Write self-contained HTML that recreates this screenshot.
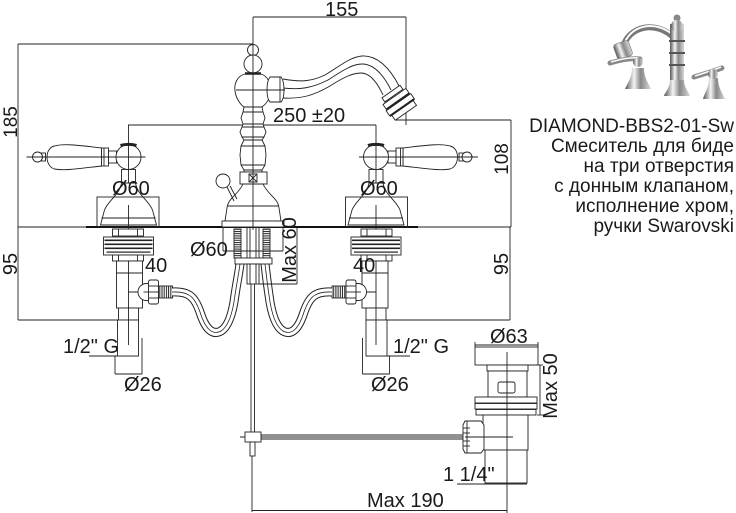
<!DOCTYPE html>
<html><head><meta charset="utf-8"><style>
html,body{margin:0;padding:0;background:#fff;}
svg{display:block;}
text{font-family:"Liberation Sans","DejaVu Sans",sans-serif;fill:#1a1a1a;}
</style></head><body>
<svg width="736" height="513" viewBox="0 0 736 513" xmlns="http://www.w3.org/2000/svg">
<defs>
 <pattern id="hatch" width="4" height="2.2" patternUnits="userSpaceOnUse">
  <rect width="4" height="2.2" fill="#fff"/><rect width="4" height="1" fill="#222"/>
 </pattern>
 <pattern id="vhatch" width="2.2" height="4" patternUnits="userSpaceOnUse">
  <rect width="2.2" height="4" fill="#fff"/><rect width="1" height="4" fill="#222"/>
 </pattern>
 <linearGradient id="chrome" x1="0" y1="0" x2="1" y2="0">
  <stop offset="0" stop-color="#555"/><stop offset="0.35" stop-color="#f4f4f4"/>
  <stop offset="0.6" stop-color="#888"/><stop offset="1" stop-color="#d8d8d8"/>
 </linearGradient>
 <g id="valve" fill="#fff" stroke="#222" stroke-width="0.9">
  <!-- lever -->
  <path d="M-27,148 C-45,146 -63,143 -74,146 C-84,148 -84,166 -74,169 C-63,171 -45,168 -27,166 Z"/>
  <rect x="-27" y="148" width="7" height="18"/>
  <line x1="-24.5" y1="148" x2="-24.5" y2="166"/>
  <rect x="-20" y="151" width="8" height="12"/>
  <rect x="-87" y="153" width="4" height="8"/>
  <circle cx="-91" cy="157" r="5"/>
  <circle cx="0" cy="157" r="12.5"/>
  <path d="M-8,145.5 Q0,143.2 8,145.5" stroke-width="3" fill="none"/>
  <line x1="-102" y1="157" x2="17" y2="157"/>
  <!-- neck & bell -->
  <rect x="-7" y="169.5" width="14" height="14"/>
  <path d="M-7,183 C-9,195 -20,200 -24,210 L-28,225 L28,225 L24,210 C20,200 9,195 7,183 Z"/>
  <rect x="-31.5" y="197" width="62" height="30" fill="none"/>
  <line x1="-27" y1="218" x2="27" y2="218"/>
  <line x1="0" y1="125" x2="0" y2="183"/>
  <line x1="0" y1="205" x2="0" y2="230"/>
  <!-- below deck -->
  <rect x="-16" y="229" width="31" height="7"/>
  <line x1="-10" y1="229" x2="-10" y2="236"/><line x1="9" y1="229" x2="9" y2="236"/>
  <rect x="-25" y="237" width="50" height="18"/>
  <rect x="-24" y="239.5" width="48" height="1.6" fill="#222" stroke="none"/>
  <rect x="-24" y="243.5" width="48" height="1.6" fill="#222" stroke="none"/>
  <rect x="-24" y="247.5" width="48" height="1.6" fill="#222" stroke="none"/>
  <rect x="-22" y="251.5" width="44" height="1.2" fill="#222" stroke="none"/>
  <rect x="-16" y="255" width="31" height="6"/>
  <line x1="-10" y1="255" x2="-10" y2="261"/><line x1="9" y1="255" x2="9" y2="261"/>
  <rect x="-12" y="261" width="26" height="47"/>
  <line x1="-12" y1="273" x2="14" y2="273"/>
  <rect x="-10" y="308" width="20" height="12"/>
  <rect x="-11" y="320" width="21" height="36"/>
  <line x1="0" y1="261" x2="0" y2="345"/>
  <!-- outlet -->
  <line x1="0" y1="292" x2="25" y2="292"/>
  <rect x="30" y="286" width="14" height="12" fill="url(#vhatch)"/>
  <circle cx="18" cy="292" r="8.5"/>
  <rect x="20" y="280" width="10" height="24" rx="2"/>
  <line x1="20" y1="286" x2="30" y2="286"/><line x1="20" y1="298" x2="30" y2="298"/>
  <line x1="15" y1="292" x2="30" y2="292"/>
  <!-- Ø26 dim -->
  <line x1="-13.5" y1="356" x2="-13.5" y2="374"/>
  <line x1="13.5" y1="338" x2="13.5" y2="374"/>
  <line x1="-13.5" y1="374" x2="13.5" y2="374"/>
 </g>
</defs>

<g fill="none" stroke="#222" stroke-width="0.9">
 <!-- dimension lines -->
 <line x1="253" y1="17" x2="406" y2="17"/>
 <line x1="253" y1="17" x2="253" y2="45"/>
 <line x1="406" y1="17" x2="406" y2="125"/>
 <line x1="18" y1="44" x2="253" y2="44"/>
 <line x1="18" y1="44" x2="18" y2="320"/>
 <line x1="128" y1="125" x2="376" y2="125"/>
 <line x1="395" y1="120" x2="511" y2="120"/>
 <line x1="511" y1="120" x2="511" y2="227"/>
 <line x1="510" y1="227" x2="510" y2="320"/>
 <line x1="18" y1="320" x2="118" y2="320"/>
 <line x1="386" y1="320" x2="510" y2="320"/>
 <line x1="89" y1="356" x2="138" y2="356"/>
 <line x1="366" y1="356" x2="410" y2="356"/>
 <!-- deck -->
 <line x1="18" y1="227" x2="511" y2="227"/>
</g>
<line x1="86" y1="227" x2="418" y2="227" stroke="#111" stroke-width="2"/>

<!-- valves -->
<use href="#valve" transform="translate(128.5,0)"/>
<use href="#valve" transform="translate(376,0) scale(-1,1)"/>

<!-- hoses -->
<g fill="none" stroke-linecap="butt">
 <path d="M172,292 C190,291 195,298 200,312 C205,328 212,336 221,331 C229,326 233,311 235,295 C237,282 239,272 240,264" stroke="#222" stroke-width="9"/>
 <path d="M172,292 C190,291 195,298 200,312 C205,328 212,336 221,331 C229,326 233,311 235,295 C237,282 239,272 240,264" stroke="#fff" stroke-width="7"/>
 <path d="M172,292 C190,291 195,298 200,312 C205,328 212,336 221,331 C229,326 233,311 235,295 C237,282 239,272 240,264" stroke="#222" stroke-width="0.8"/>
 <path d="M332,292 C314,291 309,298 304,312 C299,328 292,336 283,331 C275,326 271,311 269,295 C267,282 266,272 265,264" stroke="#222" stroke-width="9"/>
 <path d="M332,292 C314,291 309,298 304,312 C299,328 292,336 283,331 C275,326 271,311 269,295 C267,282 266,272 265,264" stroke="#fff" stroke-width="7"/>
 <path d="M332,292 C314,291 309,298 304,312 C299,328 292,336 283,331 C275,326 271,311 269,295 C267,282 266,272 265,264" stroke="#222" stroke-width="0.8"/>
</g>

<!-- central body -->
<g fill="#fff" stroke="#222" stroke-width="0.9">
 <!-- spout -->
 <path d="M283,79 C300,82 310,82 325,75 C340,66 350,57 362,56 C377,55 390,68 399,86" fill="none"/>
 <path d="M283,88 C300,90 312,88 328,80 C342,71 352,64 362,64 C373,64 383,74 391,90" fill="none"/>
 <path d="M283,98 C300,99 313,96 330,86 C344,77 353,73 361,73 C370,73 377,82 383,95" fill="none"/>
 <g transform="translate(399,103) rotate(-35)">
  <rect x="-11" y="-14" width="22" height="5"/>
  <rect x="-14" y="-8" width="28" height="6"/>
  <rect x="-15" y="-1" width="30" height="6"/>
  <rect x="-13" y="6" width="26" height="6"/>
  <line x1="-14" y1="-2" x2="14" y2="-2" stroke-width="2"/>
  <line x1="-15" y1="5.5" x2="15" y2="5.5" stroke-width="2"/>
 </g>
 <!-- top -->
 <circle cx="253" cy="50" r="5.5"/>
 <circle cx="253" cy="64" r="9"/>
 <path d="M245,74 C237,76 234,84 235,91 C236,99 241,105 244,107 L262,107 C266,104 270,99 271,91 C271,84 268,76 261,74 Z"/>
 <line x1="245" y1="73.5" x2="261" y2="73.5" stroke-width="2.5"/>
 <path d="M270,77 L281,77 C285,82 285,98 281,102 L270,102 C266,98 266,82 270,77 Z"/>
 <line x1="280" y1="77" x2="280" y2="102"/>
 <line x1="236" y1="90" x2="285" y2="90"/>
 <!-- column -->
 <path d="M244,107 L243,112 L241,118 L243,124 L242,127 L240,132 L242,137 L244,140 L241,146 L240,155 L241,165 L244,170 L244,172 L262,172 L262,170 L265,165 L266,155 L265,146 L262,140 L264,137 L266,132 L264,127 L263,124 L265,118 L263,112 L262,107 Z"/>
 <line x1="243" y1="112" x2="263" y2="112"/>
 <line x1="243" y1="124" x2="263" y2="124"/>
 <line x1="242" y1="127" x2="264" y2="127"/>
 <line x1="242" y1="137" x2="264" y2="137"/>
 <line x1="244" y1="140" x2="262" y2="140"/>
 <line x1="241" y1="146" x2="265" y2="146"/>
 <line x1="241" y1="165" x2="265" y2="165"/>
 <line x1="244" y1="170" x2="262" y2="170"/>
 <rect x="240" y="172" width="27" height="12"/>
 <rect x="249" y="174" width="8" height="8"/>
 <line x1="249" y1="174" x2="257" y2="182"/><line x1="257" y1="174" x2="249" y2="182"/>
 <!-- bell -->
 <path d="M243,184 C238,195 228,198 227,208 L225,221 L281,221 L279,208 C278,198 268,195 263,184 Z"/>
 <line x1="227" y1="206" x2="279" y2="206"/>
 <rect x="222" y="221" width="62" height="6"/>
 <!-- pop-up lever -->
 <line x1="227" y1="187" x2="234" y2="201"/>
 <line x1="230" y1="186" x2="237" y2="199"/>
 <circle cx="223" cy="181" r="7"/>
 <line x1="253" y1="44" x2="253" y2="230" fill="none"/>
 <!-- below deck center -->
 <line x1="247" y1="227" x2="247" y2="258"/><line x1="250" y1="227" x2="250" y2="258"/>
 <line x1="256" y1="227" x2="256" y2="258"/><line x1="259" y1="227" x2="259" y2="258"/>
 <rect x="234" y="229" width="7" height="29" fill="url(#hatch)"/>
 <rect x="263" y="229" width="7" height="29" fill="url(#hatch)"/>
 <rect x="235" y="258" width="37" height="6"/>
 <rect x="247" y="264" width="12" height="20"/>
 <line x1="250" y1="264" x2="250" y2="284"/><line x1="256" y1="264" x2="256" y2="284"/>
 <line x1="251" y1="284" x2="251" y2="433" fill="none"/>
 <line x1="254.5" y1="284" x2="254.5" y2="433" fill="none"/>
 <!-- Ø60 center / Max 60 -->
 <line x1="223" y1="227" x2="223" y2="251" fill="none"/>
 <line x1="223" y1="251" x2="283" y2="251" fill="none"/>
 <line x1="283" y1="227" x2="283" y2="251" fill="none"/>
 <line x1="297" y1="227" x2="297" y2="284" fill="none"/>
 <line x1="259" y1="284" x2="297" y2="284" fill="none"/>
 <!-- horizontal rod -->
 <line x1="240" y1="437" x2="513" y2="437" fill="none"/>
 <line x1="261" y1="435" x2="465" y2="435" fill="none"/>
 <line x1="261" y1="439" x2="465" y2="439" fill="none"/>
 <rect x="245" y="432" width="16" height="10"/>
 <rect x="250" y="442" width="5" height="14"/>
 <!-- Max 190 -->
 <line x1="252" y1="456" x2="252" y2="512" fill="none"/>
 <line x1="252" y1="510.5" x2="507" y2="510.5" fill="none"/>
 <!-- drain -->
 <line x1="475" y1="345" x2="538" y2="345" fill="none"/>
 <line x1="475" y1="342" x2="475" y2="347" fill="none"/>
 <line x1="538" y1="342" x2="538" y2="347" fill="none"/>
 <rect x="475" y="347" width="63" height="18"/>
 <rect x="487" y="365" width="41" height="6"/>
 <rect x="488" y="371" width="39" height="26"/>
 <rect x="498" y="382" width="17" height="11" rx="2"/>
 <rect x="475" y="397" width="62" height="6"/>
 <rect x="475" y="403.5" width="62" height="5.5"/>
 <rect x="476" y="409.5" width="60" height="5.5"/>
 <rect x="483" y="415" width="45" height="35"/>
 <rect x="485" y="450" width="42" height="33"/>
 <path d="M465,421 L481,421 L484,425 L484,449 L481,453 L465,453 L463,449 L463,425 Z"/>
 <line x1="467" y1="421" x2="467" y2="453"/>
 <line x1="463" y1="428" x2="470" y2="428"/><line x1="463" y1="433" x2="470" y2="433"/>
 <line x1="463" y1="441" x2="470" y2="441"/><line x1="463" y1="446" x2="470" y2="446"/>
 <line x1="465" y1="437" x2="513" y2="437" fill="none"/>
 <line x1="507" y1="352" x2="507" y2="513" fill="none"/>
 <line x1="540" y1="365" x2="540" y2="415" fill="none"/>
 <line x1="528" y1="365" x2="543" y2="365" fill="none"/>
 <line x1="537" y1="415" x2="543" y2="415" fill="none"/>
 <line x1="457" y1="484" x2="527" y2="484" fill="none"/>
</g>

<!-- labels -->
<g font-size="20">
 <text x="325" y="16">155</text>
 <text x="273" y="122">250 ±20</text>
 <text x="112" y="195">Ø60</text>
 <text x="360" y="195">Ø60</text>
 <text x="190" y="256">Ø60</text>
 <text x="145" y="272">40</text>
 <text x="353" y="272">40</text>
 <text x="63" y="353">1/2" G</text>
 <text x="393" y="353">1/2" G</text>
 <text x="124" y="391">Ø26</text>
 <text x="371" y="391">Ø26</text>
 <text x="490" y="343">Ø63</text>
 <text x="443" y="481">1 1/4"</text>
 <text x="367" y="507">Max 190</text>
 <text transform="translate(17,122) rotate(-90)" text-anchor="middle" font-size="19">185</text>
 <text transform="translate(17,264) rotate(-90)" text-anchor="middle">95</text>
 <text transform="translate(508,159) rotate(-90)" text-anchor="middle" font-size="19">108</text>
 <text transform="translate(508,264) rotate(-90)" text-anchor="middle">95</text>
 <text transform="translate(296,250) rotate(-90)" text-anchor="middle">Max 60</text>
 <text transform="translate(557,386) rotate(-90)" text-anchor="middle">Max 50</text>
</g>

<!-- product photo -->
<g>
 <path d="M672,36 C656,22 632,25 624,44" stroke="#777" stroke-width="6" fill="none"/>
 <path d="M672,34 C656,21 633,24 625,42" stroke="#fafafa" stroke-width="2" fill="none"/>
 <rect x="615" y="42" width="16" height="16" rx="3" fill="url(#chrome)" stroke="#777" stroke-width="0.6" transform="rotate(-20 623 50)"/>
 <rect x="670" y="24" width="14" height="58" fill="url(#chrome)"/>
 <rect x="669" y="40" width="16" height="2" fill="#555"/>
 <rect x="669" y="52" width="16" height="2" fill="#555"/>
 <rect x="669" y="64" width="16" height="2" fill="#555"/>
 <circle cx="677" cy="18" r="3.5" fill="#888"/>
 <circle cx="677" cy="26" r="6" fill="url(#chrome)"/>
 <path d="M670,80 C670,88 665,92 664,96 L690,96 C689,92 684,88 684,80 Z" fill="url(#chrome)"/>
 <path d="M632,68 C632,78 627,84 625,89 L651,89 C649,84 644,78 644,68 Z" fill="url(#chrome)"/>
 <path d="M610,63 C620,60 632,58 640,59" stroke="#888" stroke-width="5" fill="none" stroke-linecap="round"/>
 <path d="M611,62 C620,59 632,57 639,58" stroke="#fafafa" stroke-width="1.5" fill="none"/>
 <circle cx="638" cy="62" r="5" fill="url(#chrome)"/>
 <path d="M709,78 C709,88 704,94 703,99 L725,99 C723,94 718,88 718,78 Z" fill="url(#chrome)"/>
 <path d="M694,77 C704,74 714,71 722,68" stroke="#888" stroke-width="5" fill="none" stroke-linecap="round"/>
 <path d="M695,76 C704,73 714,70 721,67" stroke="#fafafa" stroke-width="1.5" fill="none"/>
 <circle cx="713" cy="74" r="5" fill="url(#chrome)"/>
</g>

<!-- description -->
<g font-size="19" text-anchor="end" font-family="'Liberation Sans','DejaVu Sans',sans-serif">
 <text x="734" y="132">DIAMOND-BBS2-01-Sw</text>
 <text x="734" y="152">Смеситель для биде</text>
 <text x="734" y="172">на три отверстия</text>
 <text x="734" y="192">с донным клапаном,</text>
 <text x="734" y="212">исполнение хром,</text>
 <text x="734" y="232">ручки Swarovski</text>
</g>
</svg>
</body></html>
